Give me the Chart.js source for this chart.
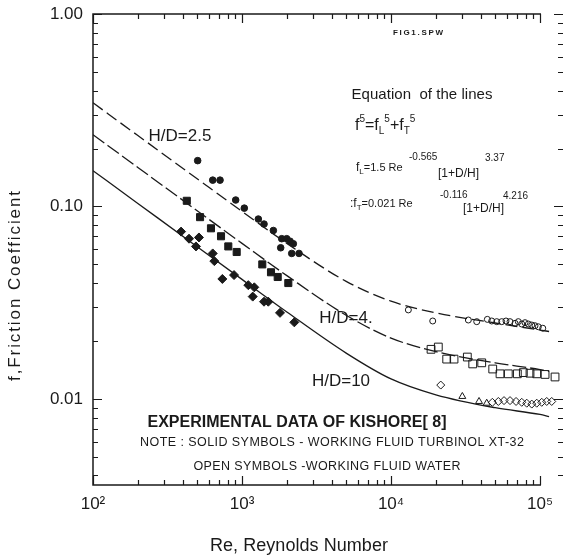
<!DOCTYPE html>
<html>
<head>
<meta charset="utf-8">
<script src="https://cdn.jsdelivr.net/npm/chart.js@4.4.0/dist/chart.umd.min.js"></script>
<style>
html,body{margin:0;padding:0;background:#fff;overflow:hidden}
canvas{display:block}
</style>
</head>
<body>
<canvas id="c" width="563" height="558" style="width:563px;height:558px"></canvas>
<script>
// Friction coefficient vs Reynolds number, log-log

// correlation lines
const curveRe=[100,200,500,1000,2000,5000,10000,20000,50000,100000,115000];
const curveHD25=[0.3456,0.2336,0.1393,0.0943,0.0643,0.0408,0.0322,0.0280,0.0248,0.0228,0.0224];
const curveHD4=[0.2359,0.1595,0.0950,0.0643,0.0437,0.0272,0.0207,0.0176,0.0154,0.0142,0.0139];
const curveHD10=[0.1534,0.1037,0.0618,0.0418,0.0283,0.0173,0.0127,0.0105,0.0090,0.0083,0.0081];

// solid symbols (Turbinol XT-32)
const solid25Re=[504,636,712,907,1036,1287,1405,1623,1847,1995,2100,2210,1818,2156,2413];
const solid25F=[0.173,0.137,0.137,0.108,0.098,0.086,0.081,0.075,0.068,0.068,0.066,0.064,0.061,0.057,0.057];
const solid4Re=[426,523,619,723,809,921,1368,1565,1736,2045];
const solid4F=[0.107,0.088,0.077,0.070,0.062,0.058,0.050,0.0455,0.043,0.040];
const solid10Re=[390,441,514,491,636,652,738,884,1102,1209,1180,1405,1501,1799,2244];
const solid10F=[0.074,0.068,0.069,0.062,0.057,0.052,0.042,0.044,0.039,0.038,0.034,0.032,0.032,0.028,0.025];

// open symbols (water)
const open25Re=[13070,19050,33030,37600,44300,47400,51200,55300,59100,62900,67960,71500,75400,79300,83500,88000,92500,97400,104300];
const open25F=[0.0290,0.0254,0.0257,0.0252,0.0259,0.0254,0.0252,0.0252,0.0254,0.0252,0.0247,0.0252,0.0245,0.0249,0.0245,0.0242,0.0240,0.0237,0.0233];
const open4Re=[18560,20770,23640,26470,32520,35340,40620,48140,53890,61250,70410,77250,85650,95040,108100,126100];
const open4F=[0.0181,0.0186,0.0161,0.0161,0.0165,0.0152,0.0154,0.0143,0.0135,0.0135,0.0135,0.0137,0.0136,0.0135,0.0134,0.0130];
const open10TriRe=[30100,38960,43880];
const open10TriF=[0.0103,0.0097,0.0095];
const open10DiaRe=[21560,47850,52500,57330,62900,69030,75400,81430,88000,95040,102700,110900,119800];
const open10DiaF=[0.0118,0.0096,0.0097,0.0098,0.0098,0.0097,0.0096,0.0095,0.0094,0.0095,0.0096,0.0097,0.0097];

// axes
const xMajor=[100,1000,10000,100000];
const xLabels=['10\u00B2','10\u00B3','10\u2074','10\u2075'];
const yMajor=[1,0.1,0.01];
const yLabels=['1.00','0.10','0.01'];
const xMin=100, xMax=142600, yMin=0.00357, yMax=1;
const frameEndRe=101500;

const FONT="'Liberation Sans', Arial, sans-serif";
const INK='#1a1a1a';

function pts(xs,ys){return xs.map((v,i)=>({x:v,y:ys[i]}));}

function marks(data,style,r,filled){
  return {data,pointStyle:style,pointRadius:r,pointHoverRadius:r,borderWidth:1,
    borderColor:INK,backgroundColor:filled?INK:'rgba(255,255,255,0)',showLine:false};
}
function curve(data,dash){
  return {data,showLine:true,borderColor:INK,borderWidth:1.3,borderDash:dash,pointRadius:0,
    pointHoverRadius:0,cubicInterpolationMode:'monotone',fill:false};
}

// frame + inward ticks
const frameTicks={
  id:'frameTicks',
  beforeDatasetsDraw(chart){
    const {ctx,chartArea:a,scales:{x,y}}=chart;
    ctx.save();
    ctx.strokeStyle=INK;
    ctx.lineWidth=1.5;
    const xEnd=x.getPixelForValue(frameEndRe);
    ctx.beginPath();
    ctx.moveTo(xEnd,a.top);ctx.lineTo(a.left,a.top);ctx.lineTo(a.left,a.bottom);ctx.lineTo(xEnd,a.bottom);
    ctx.stroke();
    ctx.lineWidth=1.2;
    ctx.beginPath();
    [100,1000,10000,100000].forEach(d=>{
      for(let m=1;m<=9;m++){
        const v=m*d;
        if(v>frameEndRe) break;
        const px=Math.round(x.getPixelForValue(v))+0.5;
        const len=m===1?9:5;
        ctx.moveTo(px,a.bottom);ctx.lineTo(px,a.bottom-len);
        ctx.moveTo(px,a.top);ctx.lineTo(px,a.top+len);
      }
    });
    [0.001,0.01,0.1,1].forEach(d=>{
      for(let m=1;m<=9;m++){
        const v=m*d;
        if(v<yMin||v>yMax*1.0001) continue;
        const py=Math.round(y.getPixelForValue(v))+0.5;
        const len=m===1?9:5;
        ctx.moveTo(a.left,py);ctx.lineTo(a.left+len,py);
        ctx.moveTo(a.right,py);ctx.lineTo(a.right-len,py);
      }
    });
    ctx.stroke();
    ctx.restore();
  }
};

// run of text pieces, each {t,size,dy,at}
function run(ctx,x,y,segs){
  segs.forEach(s=>{
    if(s.at!==undefined) x=s.at;
    ctx.font=(s.bold?'bold ':'')+s.size+'px '+FONT;
    ctx.fillText(s.t,x,y+(s.dy||0));
    x+=ctx.measureText(s.t).width;
  });
}
function fitText(ctx,str,cx,cy,font,width){
  ctx.font=font;
  ctx.letterSpacing='0px';
  const w=ctx.measureText(str).width;
  const sp=(width-w)/Math.max(str.length-1,1);
  ctx.letterSpacing=sp.toFixed(2)+'px';
  ctx.textAlign='left';
  ctx.fillText(str,cx-width/2,cy);
  ctx.letterSpacing='0px';
}

const labels={
  id:'labels',
  afterDraw(chart){
    const ctx=chart.ctx;
    ctx.save();
    ctx.fillStyle=INK;
    ctx.textBaseline='middle';
    ctx.textAlign='center';

    ctx.font='17px '+FONT;
    ctx.fillText('H/D=2.5',180,136);
    ctx.fillText('H/D=4.',346,318);
    ctx.fillText('H/D=10',341,381);

    fitText(ctx,'FIG1.SPW',418,33,'bold 8px '+FONT,50);

    fitText(ctx,'EXPERIMENTAL DATA OF KISHORE[ 8]',297,423,'bold 16px '+FONT,299);
    fitText(ctx,'NOTE : SOLID SYMBOLS - WORKING FLUID TURBINOL XT-32',332,443,'12.5px '+FONT,384);
    fitText(ctx,'OPEN SYMBOLS -WORKING FLUID WATER',327,467,'12.5px '+FONT,267);

    // axis titles
    fitText(ctx,'Re, Reynolds Number',299,546,'18px '+FONT,178);
    ctx.save();
    ctx.translate(15,286);
    ctx.rotate(-Math.PI/2);
    fitText(ctx,'f,Friction Coefficient',0,0,'17px '+FONT,190);
    ctx.restore();

    // equation block
    ctx.textBaseline='alphabetic';
    fitText(ctx,'Equation  of the lines',352+70,99,'15px '+FONT,141);
    ctx.textAlign='left';
    run(ctx,355,130,[
      {t:'f',size:16},{t:'5',size:10,dy:-8},{t:'=f',size:16},{t:'L',size:10,dy:4},{t:'5',size:10,dy:-8},
      {t:'+f',size:16},{t:'T',size:10,dy:4},{t:'5',size:10,dy:-8}
    ]);
    run(ctx,356,171,[
      {t:'f',size:12},{t:'L',size:8,dy:3},{t:'=1.5 Re',size:11},
      {t:'-0.565',size:10,dy:-11,at:409},{t:'[1+D/H]',size:12,dy:6,at:438},{t:'3.37',size:10,dy:-10,at:485}
    ]);
    run(ctx,350,207,[
      {t:':f',size:12},{t:'T',size:8,dy:3},{t:'=0.021 Re',size:11},
      {t:'-0.116',size:10,dy:-9,at:440},{t:'[1+D/H]',size:12,dy:5,at:463},{t:'4.216',size:10,dy:-8,at:503}
    ]);
    ctx.restore();
  }
};

new Chart(document.getElementById('c'),{
  type:'scatter',
  data:{datasets:[
    marks(pts(solid25Re,solid25F),'circle',3.3,true),
    marks(pts(solid4Re,solid4F),'rect',5,true),
    marks(pts(solid10Re,solid10F),'rectRot',4.5,true),
    marks(pts(open25Re,open25F),'circle',3,false),
    marks(pts(open4Re,open4F),'rect',5.5,false),
    marks(pts(open10TriRe,open10TriF),'triangle',4,false),
    marks(pts(open10DiaRe,open10DiaF),'rectRot',4,false),
    curve(pts(curveRe,curveHD25),[12,5]),
    curve(pts(curveRe,curveHD4),[14,4]),
    curve(pts(curveRe,curveHD10),[])
  ]},
  options:{
    responsive:false,
    animation:false,
    devicePixelRatio:1,
    layout:{autoPadding:false,padding:{top:14,right:0,left:0,bottom:0}},
    plugins:{legend:{display:false},tooltip:{enabled:false}},
    scales:{
      x:{type:'logarithmic',min:xMin,max:xMax,
        grid:{display:false,drawTicks:false},border:{display:false},
        afterBuildTicks:s=>{s.ticks=xMajor.map(v=>({value:v}));},
        afterFit:s=>{s.height=73;s.paddingLeft=0;s.paddingRight=0;},
        ticks:{callback:(v,i)=>xLabels[i],color:INK,font:{family:FONT,size:17},padding:9,maxRotation:0,autoSkip:false}
      },
      y:{type:'logarithmic',min:yMin,max:yMax,
        grid:{display:false,drawTicks:false},border:{display:false},
        afterBuildTicks:s=>{s.ticks=yMajor.map(v=>({value:v}));},
        afterFit:s=>{s.width=93;s.paddingTop=0;s.paddingBottom=0;},
        ticks:{callback:(v,i)=>yLabels[i],color:INK,font:{family:FONT,size:17},padding:10,autoSkip:false}
      }
    }
  },
  plugins:[frameTicks,labels]
});
</script>
</body>
</html>
